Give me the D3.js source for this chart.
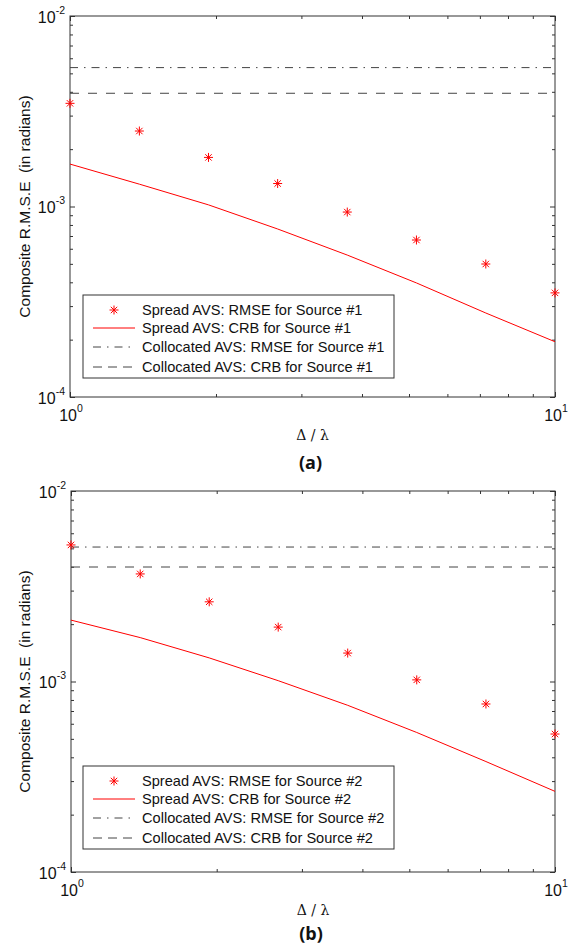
<!DOCTYPE html>
<html>
<head>
<meta charset="utf-8">
<script src="https://cdn.jsdelivr.net/npm/d3@7"></script>
<style>
  body { margin: 0; background: #fff; }
  text { font-family: "Liberation Sans", Arial, Helvetica, sans-serif; fill: #111; }
</style>
</head>
<body>
<div id="canvas"></div>
<script>
// x values (Delta / lambda)
const xRatio = [1, 1.39, 1.93, 2.68, 3.73, 5.18, 7.2, 10]

// panel (a), source #1
const rmseSpread1 = [3.48e-3, 2.49e-3, 1.81e-3, 1.32e-3, 9.35e-4, 6.67e-4, 4.99e-4, 3.52e-4]
const crbSpread1 = [1.67e-3, 1.31e-3, 1.02e-3, 7.62e-4, 5.56e-4, 3.97e-4, 2.76e-4, 1.95e-4]
const rmseColloc1 = 5.36e-3
const crbColloc1 = 3.93e-3

// panel (b), source #2
const rmseSpread2 = [5.21e-3, 3.67e-3, 2.62e-3, 1.93e-3, 1.41e-3, 1.02e-3, 7.62e-4, 5.3e-4]
const crbSpread2 = [2.1e-3, 1.7e-3, 1.33e-3, 1.01e-3, 7.5e-4, 5.4e-4, 3.8e-4, 2.65e-4]
const rmseColloc2 = 5.08e-3
const crbColloc2 = 3.99e-3

// ticks
const xMajor = [1, 10]
const xMinor = [2, 3, 4, 5, 6, 7, 8, 9]
const yMajor = [1e-4, 1e-3, 1e-2]
const yMinor = [2e-4, 3e-4, 4e-4, 5e-4, 6e-4, 7e-4, 8e-4, 9e-4, 2e-3, 3e-3, 4e-3, 5e-3, 6e-3, 7e-3, 8e-3, 9e-3]

const legendNames = ["Spread AVS: RMSE for Source ", "Spread AVS: CRB for Source ",
  "Collocated AVS: RMSE for Source ", "Collocated AVS: CRB for Source "]

let svg = {}

window.onload = function () { setup() }

function setup() {
  svg = d3.select("#canvas").append("svg")
    .attr("width", 574)
    .attr("height", 946)

  drawPanel({top: 16, left: 70, right: 555, height: 381, legendTop: 295, caption: "(a)", capY: 463, src: "#1",
    rmse: rmseSpread1, crb: crbSpread1, rmseColloc: rmseColloc1, crbColloc: crbColloc1})
  drawPanel({top: 491, left: 71, right: 555, height: 381, legendTop: 766, caption: "(b)", capY: 934, src: "#2",
    rmse: rmseSpread2, crb: crbSpread2, rmseColloc: rmseColloc2, crbColloc: crbColloc2})
}

const starPath = "M-4.5,0H4.5M0,-4.5V4.5M-3.2,-3.2L3.2,3.2M-3.2,3.2L3.2,-3.2"

function drawPanel(p) {
  const bottom = p.top + p.height
  const x = d3.scaleLog().domain([1, 10]).range([p.left, p.right])
  const y = d3.scaleLog().domain([1e-4, 1e-2]).range([bottom, p.top])
  const g = svg.append("g")
  const axisColor = "#333"

  // ticks on all four sides, pointing inward
  const addAxis = (axis, transform) => {
    const a = g.append("g").attr("transform", transform).call(axis)
    a.select(".domain").remove()
    a.selectAll("line").attr("stroke", axisColor)
  }
  addAxis(d3.axisBottom(x).tickValues(xMajor).tickSize(-5).tickFormat(""), `translate(0,${bottom})`)
  addAxis(d3.axisBottom(x).tickValues(xMinor).tickSize(-3).tickFormat(""), `translate(0,${bottom})`)
  addAxis(d3.axisTop(x).tickValues(xMajor).tickSize(-5).tickFormat(""), `translate(0,${p.top})`)
  addAxis(d3.axisTop(x).tickValues(xMinor).tickSize(-3).tickFormat(""), `translate(0,${p.top})`)
  addAxis(d3.axisLeft(y).tickValues(yMajor).tickSize(-5).tickFormat(""), `translate(${p.left},0)`)
  addAxis(d3.axisLeft(y).tickValues(yMinor).tickSize(-3).tickFormat(""), `translate(${p.left},0)`)
  addAxis(d3.axisRight(y).tickValues(yMajor).tickSize(-5).tickFormat(""), `translate(${p.right},0)`)
  addAxis(d3.axisRight(y).tickValues(yMinor).tickSize(-3).tickFormat(""), `translate(${p.right},0)`)

  g.append("rect")
    .attr("x", p.left).attr("y", p.top)
    .attr("width", p.right - p.left).attr("height", p.height)
    .attr("fill", "none").attr("stroke", axisColor).attr("stroke-width", 1)

  // tick labels as 10 with superscript exponent
  const yl = g.selectAll(".ylab").data(yMajor).join("text")
    .attr("class", "ylab")
    .attr("x", p.left - 5)
    .attr("y", d => y(d) + 6.5)
    .attr("text-anchor", "end")
    .style("font-size", "16px")
  yl.append("tspan").text("10")
  yl.append("tspan").attr("dy", -9).style("font-size", "10.5px").text(d => Math.round(Math.log10(d)))

  const xl = g.selectAll(".xlab").data(xMajor).join("text")
    .attr("class", "xlab")
    .attr("x", d => x(d) + 1)
    .attr("y", bottom + 24)
    .attr("text-anchor", "middle")
    .style("font-size", "16px")
  xl.append("tspan").text("10")
  xl.append("tspan").attr("dy", -9).style("font-size", "10.5px").text(d => Math.round(Math.log10(d)))

  // collocated lines
  g.append("line")
    .attr("x1", p.left).attr("x2", p.right)
    .attr("y1", y(p.rmseColloc)).attr("y2", y(p.rmseColloc))
    .attr("stroke", "#444").attr("stroke-dasharray", "8,6,1.5,6")
  g.append("line")
    .attr("x1", p.left).attr("x2", p.right)
    .attr("y1", y(p.crbColloc)).attr("y2", y(p.crbColloc))
    .attr("stroke", "#444").attr("stroke-dasharray", "9,9")

  // spread CRB
  const line = d3.line().x((d, i) => x(xRatio[i])).y(d => y(d))
  g.append("path")
    .datum(p.crb)
    .attr("d", line)
    .attr("fill", "none").attr("stroke", "#ff0000").attr("stroke-width", 1)

  // spread RMSE stars
  g.selectAll(".star").data(p.rmse).join("path")
    .attr("class", "star")
    .attr("transform", (d, i) => `translate(${x(xRatio[i])},${y(d)})`)
    .attr("d", starPath)
    .attr("stroke", "#ff0000").attr("stroke-width", 1).attr("fill", "none")

  // axis titles
  g.append("text")
    .attr("transform", `translate(25,${(p.top + bottom) / 2}) rotate(-90)`)
    .attr("text-anchor", "middle")
    .attr("dy", "0.35em")
    .style("font-size", "15.5px")
    .style("white-space", "pre")
    .text("Composite R.M.S.E  (in radians)")

  g.append("text")
    .attr("x", (p.left + p.right) / 2)
    .attr("y", bottom + 38)
    .attr("dy", "0.35em")
    .attr("text-anchor", "middle")
    .style("font-family", "'DejaVu Serif', 'Liberation Serif', serif")
    .style("font-size", "14px")
    .text("\u0394 / \u03bb")

  g.append("text")
    .attr("x", (p.left + p.right) / 2 - 2)
    .attr("y", p.capY)
    .attr("dy", "0.35em")
    .attr("text-anchor", "middle")
    .style("font-family", "'Open Sans', 'Liberation Sans', sans-serif")
    .style("font-weight", "700")
    .style("font-size", "18px")
    .text(p.caption)

  // legend
  const lx = 83, lw = 311, lh = 83
  g.append("rect")
    .attr("x", lx).attr("y", p.legendTop)
    .attr("width", lw).attr("height", lh)
    .attr("fill", "#fff").attr("stroke", axisColor)
  const rowY = [15, 33, 52, 72].map(d => p.legendTop + d)
  g.append("path")
    .attr("transform", `translate(114,${rowY[0]})`)
    .attr("d", starPath).attr("stroke", "#ff0000").attr("fill", "none")
  g.append("line").attr("x1", 93).attr("x2", 135).attr("y1", rowY[1]).attr("y2", rowY[1])
    .attr("stroke", "#ff0000")
  g.append("line").attr("x1", 93).attr("x2", 135).attr("y1", rowY[2]).attr("y2", rowY[2])
    .attr("stroke", "#444").attr("stroke-dasharray", "8,6,1.5,6")
  g.append("line").attr("x1", 93).attr("x2", 135).attr("y1", rowY[3]).attr("y2", rowY[3])
    .attr("stroke", "#444").attr("stroke-dasharray", "9,6")
  g.selectAll(".legtext").data(legendNames).join("text")
    .attr("class", "legtext")
    .attr("x", 142)
    .attr("y", (d, i) => rowY[i])
    .attr("dy", "0.35em")
    .style("font-size", "14.6px")
    .text(d => d + p.src)
}
</script>
</body>
</html>
